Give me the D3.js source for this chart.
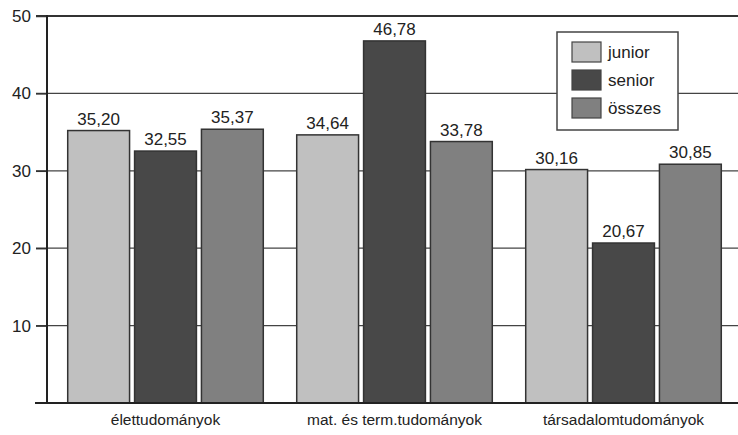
<!DOCTYPE html>
<html><head><meta charset="utf-8">
<script src="https://cdn.jsdelivr.net/npm/d3@7"></script>
<style>body{margin:0;background:#fff}svg{display:block}text{font-family:"Liberation Sans",Arial,sans-serif;fill:#222}</style>
</head><body><svg id="c" width="738" height="435"></svg>
<script>
const categories = ["élettudományok","mat. és term.tudományok","társadalomtudományok"];
const seriesNames = ["junior","senior","összes"];
const junior = [35.20, 34.64, 30.16];
const senior = [32.55, 46.78, 20.67];
const osszes = [35.37, 33.78, 30.85];
const yTicks = [10,20,30,40,50];
const colors = ["#c0c0c0","#484848","#808080"];
const series = [junior, senior, osszes];
const fmt = v => v.toFixed(2).replace(".", ",");

const svg = d3.select("#c");
const y = d3.scaleLinear().domain([0,50]).range([403,16]);
const x0 = d3.scaleBand().domain(categories).range([51,738]).paddingInner(0).paddingOuter(0);
const x1 = d3.scaleBand().domain(seriesNames).range([0, x0.bandwidth()]).paddingInner(0.075).paddingOuter(0.25);

// gridlines
svg.append("g").selectAll("line").data(yTicks.filter(t=>t<50)).join("line")
  .attr("x1",36).attr("x2",738).attr("y1",d=>y(d)).attr("y2",d=>y(d))
  .attr("stroke","#444").attr("stroke-width",1.2);
// top line
svg.append("line").attr("x1",36).attr("x2",738).attr("y1",y(50)).attr("y2",y(50)).attr("stroke","#333").attr("stroke-width",2);

// bars
categories.forEach((c,i)=>{
  const g = svg.append("g").attr("transform",`translate(${x0(c)},0)`);
  seriesNames.forEach((s,j)=>{
    const v = series[j][i];
    g.append("rect").attr("x",x1(s)).attr("width",x1.bandwidth())
      .attr("y",y(v)).attr("height",y(0)-y(v))
      .attr("fill",colors[j]).attr("stroke","#333").attr("stroke-width",1.5);
    g.append("text").attr("x",x1(s)+x1.bandwidth()/2).attr("y",y(v)-6)
      .attr("text-anchor","middle").attr("font-size",17).text(fmt(v));
  });
  svg.append("text").attr("x",x0(c)+x0.bandwidth()/2).attr("y",425)
    .attr("text-anchor","middle").attr("font-size",15.5).text(c);
});

// y axis
const yAxis = d3.axisLeft(y).tickValues(yTicks).tickSize(11).tickPadding(5).tickFormat(d3.format("d"));
const ga = svg.append("g").attr("transform","translate(47,0)").call(yAxis);
ga.select(".domain").remove();
ga.selectAll(".tick line").attr("stroke","#333").attr("stroke-width",1.5);
ga.selectAll(".tick text").attr("font-size",17).attr("font-family","Liberation Sans, Arial, sans-serif").attr("fill","#222");
svg.append("line").attr("x1",47).attr("x2",47).attr("y1",y(50)-1).attr("y2",y(0)+1).attr("stroke","#222").attr("stroke-width",2);
// bottom axis
svg.append("line").attr("x1",35).attr("x2",738).attr("y1",y(0)).attr("y2",y(0)).attr("stroke","#222").attr("stroke-width",2);

// legend
const lg = svg.append("g").attr("transform","translate(557,32)");
lg.append("rect").attr("width",121).attr("height",98).attr("fill","#fff").attr("stroke","#444").attr("stroke-width",1.5);
seriesNames.forEach((s,j)=>{
  lg.append("rect").attr("x",15).attr("y",10+j*28).attr("width",29).attr("height",20)
    .attr("fill",colors[j]).attr("stroke","#444").attr("stroke-width",1.2);
  lg.append("text").attr("x",51).attr("y",26+j*28).attr("font-size",17).text(s);
});
</script></body></html>
